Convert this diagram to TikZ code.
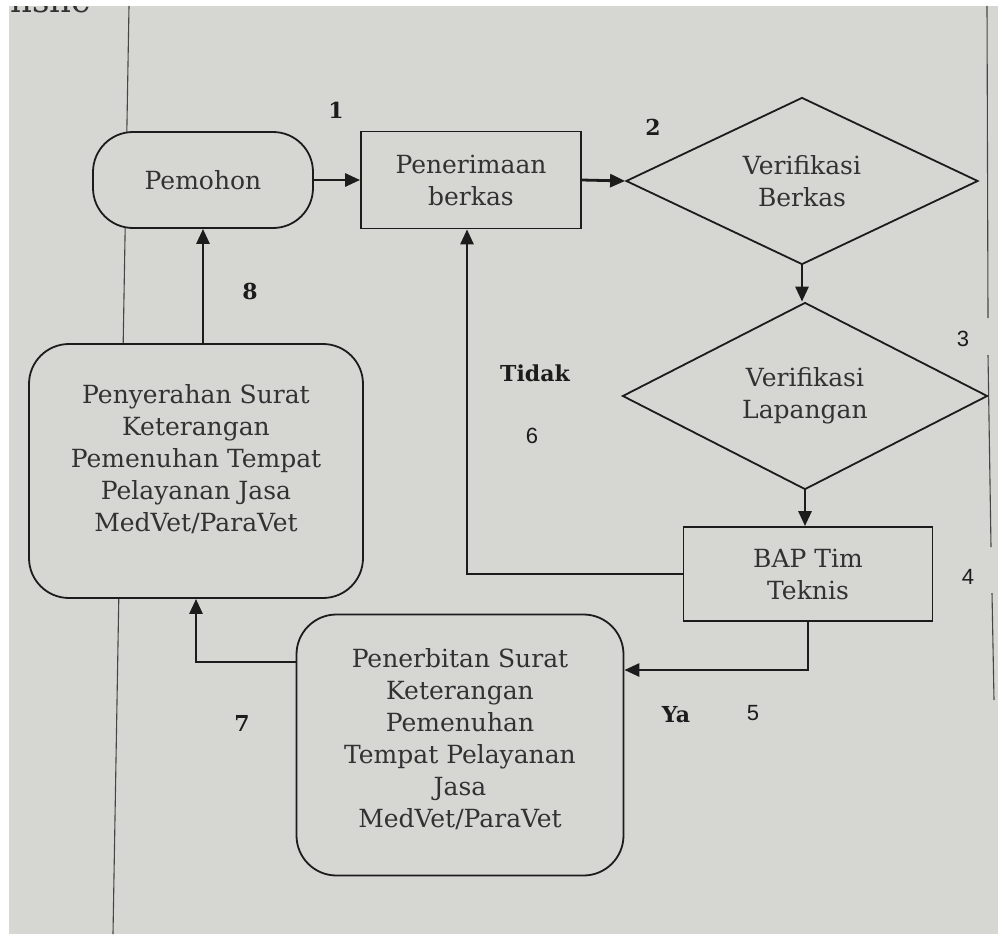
\documentclass[tikz,border=0pt]{standalone}
\usepackage{fontspec}
\setmainfont{DejaVu Serif}
\newfontfamily\numsans{Liberation Sans}
\usetikzlibrary{shapes.geometric,arrows.meta}
\definecolor{paper}{RGB}{214,214,211}
\definecolor{ink}{RGB}{28,28,28}
\definecolor{txt}{RGB}{50,50,50}
\definecolor{rule}{RGB}{70,70,70}
\begin{document}
\begin{tikzpicture}[x=1pt,y=-1pt,
  box/.style={draw=ink, line width=1.8pt, fill=paper, text=txt, align=center,
    font=\fontsize{25}{32}\selectfont, inner sep=0pt},
  rbox/.style={box, rounded corners=40pt},
  boxtext/.style={text=txt, align=center, font=\fontsize{25}{32}\selectfont, inner sep=0pt},
  dec/.style={box, diamond, aspect=2.1},
  conn/.style={draw=ink, line width=2.8pt, -{Triangle[length=15pt,width=13pt]}},
  num/.style={font=\fontsize{22}{26}\selectfont\bfseries, text=ink},
  snum/.style={font=\fontsize{22}{26}\selectfont\numsans, text=ink},
  margin/.style={draw=rule, line width=1.1pt}]
% page
\fill[paper] (0,0) rectangle (998,934);
\useasboundingbox (0,0) rectangle (998,934);
\node[anchor=base west, font=\fontsize{34}{40}\selectfont, text=txt, inner sep=0pt] (top) at (10,13) {nsnc};
\fill[white] (0,0) rectangle (998,6);
\fill[white] (0,0) rectangle (9,934);
% margin lines of the page
\draw[margin] (129,6) -- (113,934);
\draw[margin] (987,6) -- (988,318);
\draw[margin] (988,355) -- (991,547);
\draw[margin] (992,593) -- (994,700);
% nodes
\node[box, rounded corners=40pt, minimum width=220pt, minimum height=96pt] (pem) at (203,180) {Pemohon};
\node[box, minimum width=220pt, minimum height=97pt] (pen) at (471,180) {Penerimaan\\berkas};
\node[dec, minimum width=352pt, minimum height=167pt] (vb) at (802,181) {Verifikasi\\Berkas};
\node[dec, minimum width=365pt, minimum height=187pt] (vl) at (805,396) {Verifikasi\\Lapangan};
\node[box, minimum width=249pt, minimum height=94pt] (bap) at (808,574) {BAP Tim\\Teknis};
\node[rbox, minimum width=327pt, minimum height=261pt] (pnb) at (460,745) {};
\node[boxtext] (pnbt) at (460,739)
  {Penerbitan Surat\\Keterangan\\Pemenuhan\\Tempat Pelayanan\\Jasa\\MedVet/ParaVet};
\node[rbox, minimum width=334pt, minimum height=254pt] (pny) at (196,471) {};
\node[boxtext] (pnyt) at (196,459)
  {Penyerahan Surat\\Keterangan\\Pemenuhan Tempat\\Pelayanan Jasa\\MedVet/ParaVet};
% helper coordinates
\coordinate (c5) at (810,670);
\coordinate (c7) at (195,662);
% connectors
\draw[conn] (pem.east) -- (pen.west);
\draw[conn] (pen.east) -- (vb.west);
\draw[conn] (vb.south) -- (vb.south |- vl.north);
\draw[conn] (vl.south) -- (vl.south |- bap.north);
\draw[conn] (bap.west) -| ([xshift=-4pt]pen.south);
\draw[conn] (bap.south) |- (pnb.east |- c5);
\draw[conn] (pnb.west |- c7) -| (pny.south);
\draw[conn] (pem.south |- pny.north) -- (pem.south);
% labels
\node[num] (l1) at (336,110) {1};
\node[num] (l2) at (653,127) {2};
\node[snum] (l3) at (963,339) {3};
\node[snum] (l4) at (968,577) {4};
\node[snum] (l5) at (753,713) {5};
\node[snum] (l6) at (532,436) {6};
\node[num] (l7) at (242,723) {7};
\node[num] (l8) at (250,291) {8};
\node[num] (ltidak) at (535,373) {Tidak};
\node[num] (lya) at (676,715) {Ya};
\end{tikzpicture}
\end{document}
